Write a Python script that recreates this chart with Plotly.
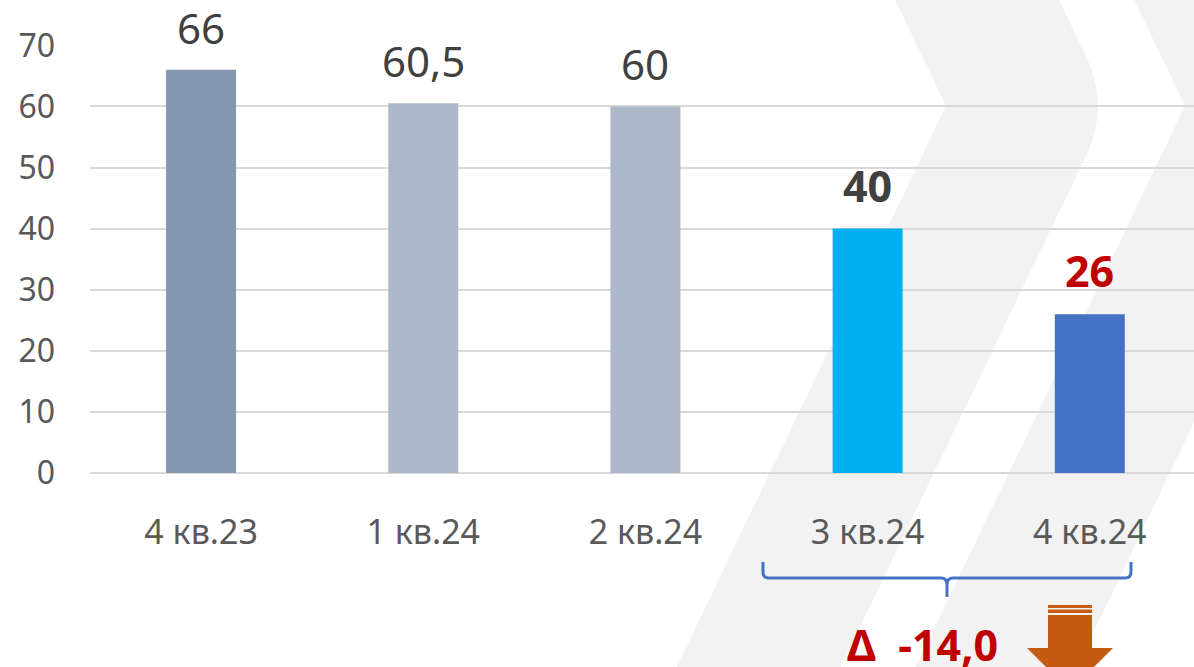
import plotly.graph_objects as go

# ---- data ----
categories = ["4 кв.23", "1 кв.24", "2 кв.24", "3 кв.24", "4 кв.24"]
values = [66, 60.5, 60, 40, 26]
value_labels = ["66", "60,5", "60", "40", "26"]
bar_colors = ["#8497B0", "#ADB9CA", "#ADB9CA", "#00B0F0", "#4472C4"]
label_colors = ["#404040", "#404040", "#404040", "#404040", "#C00000"]
label_bold = [False, False, False, True, True]
y_ticks = [0, 10, 20, 30, 40, 50, 60, 70]
delta_text = "Δ  -14,0"

W, H = 1194, 667
ML, MR, MT, MB = 90, 0, 45, 194
FONT = "Noto Sans"

def px(x):
    return (x - ML) / (W - ML - MR)

def py(y):
    return (H - MB - y) / (H - MB - MT)

def path(cmds):
    out = []
    for c in cmds:
        if isinstance(c, str):
            out.append(c)
        else:
            out.append(f"{px(c[0]):.5f},{py(c[1]):.5f}")
    return " ".join(out)

fig = go.Figure()
fig.add_trace(go.Bar(
    x=categories, y=values, width=0.315,
    marker=dict(color=bar_colors, line=dict(width=0)),
    hoverinfo="skip",
))

# data labels
for c, v, t, col, b in zip(categories, values, value_labels, label_colors, label_bold):
    fig.add_annotation(
        x=c, y=v, xref="x", yref="y", text=t, showarrow=False,
        yanchor="bottom", yshift=12,
        font=dict(family=FONT, size=43 if b else 42, color=col,
                  weight="bold" if b else "normal"),
    )

shapes = []
s = 0.48
# background chevrons
shapes.append(dict(
    type="path", xref="paper", yref="paper", layer="below", line=dict(width=0),
    fillcolor="#F2F2F2",
    path=path(["M", (946 - s * 126, -20), "L", (946, 106), "L", (946 - s * 594, 700),
               "L", (1110 - s * 594, 700), "L", (1110 - s * 50, 156),
               "Q", (1110, 106), (1110 - s * 50, 56), "L", (1110 - s * 126, -20), "Z"]),
))
shapes.append(dict(
    type="path", xref="paper", yref="paper", layer="below", line=dict(width=0),
    fillcolor="#F2F2F2",
    path=path(["M", (1185 - s * 126, -20), "L", (1185, 106), "L", (1185 - s * 594, 700),
               "L", (1346 - s * 594, 700), "L", (1346, 106), "L", (1346 - s * 126, -20), "Z"]),
))
# bracket
shapes.append(dict(
    type="path", xref="paper", yref="paper", layer="above",
    line=dict(color="#4472C4", width=3),
    path=path(["M", (763, 562), "L", (763, 572), "Q", (763, 578), (769, 578),
               "L", (941, 578), "Q", (947, 578), (947, 585), "L", (947, 597),
               "M", (947, 585), "Q", (947, 578), (953, 578),
               "L", (1125, 578), "Q", (1131, 578), (1131, 572), "L", (1131, 562)]),
))
# arrow
orange = "#C55A11"
for (y0, y1) in [(605, 608), (609.5, 613)]:
    shapes.append(dict(type="rect", xref="paper", yref="paper", layer="above",
                       x0=px(1048), x1=px(1092), y0=py(y1), y1=py(y0),
                       fillcolor=orange, line=dict(width=0)))
shapes.append(dict(
    type="path", xref="paper", yref="paper", layer="above", line=dict(width=0),
    fillcolor=orange,
    path=path(["M", (1048, 615), "L", (1092, 615), "L", (1092, 648), "L", (1113, 648),
               "L", (1070, 691), "L", (1027, 648), "L", (1048, 648), "Z"]),
))

fig.add_annotation(
    x=px(922), y=py(644), xref="paper", yref="paper", text=delta_text,
    showarrow=False, xanchor="center", yanchor="middle",
    font=dict(family=FONT, size=43, color="#C00000", weight="bold"),
)

fig.update_layout(
    width=W, height=H,
    margin=dict(l=ML, r=MR, t=MT, b=MB, pad=0),
    paper_bgcolor="white", plot_bgcolor="rgba(0,0,0,0)",
    showlegend=False, shapes=shapes,
    font=dict(family=FONT, color="#595959"),
    xaxis=dict(
        range=[-0.5, 4.469], showgrid=False, zeroline=False, showline=False,
        tickfont=dict(size=34, color="#595959"), ticks="", ticklabelstandoff=36,
        fixedrange=True,
    ),
    yaxis=dict(
        range=[0, 70.05], tickvals=y_ticks, showgrid=True, gridcolor="#D9D9D9",
        gridwidth=2, zeroline=True, zerolinecolor="#D9D9D9", zerolinewidth=2,
        showline=False, ticks="", tickfont=dict(size=32, color="#595959"),
        ticklabelstandoff=34, fixedrange=True,
    ),
)

fig.write_html(
    "out.html",
    config={"displayModeBar": False},
    post_script="document.body.style.margin='0';document.body.style.overflow='hidden';",
)
